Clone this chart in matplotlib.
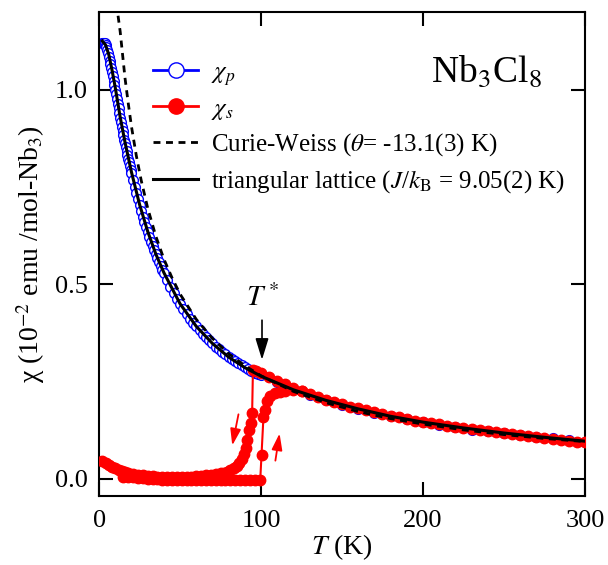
import matplotlib
matplotlib.use('Agg')
import matplotlib.pyplot as plt
from matplotlib.lines import Line2D

plt.rcParams['font.family'] = ['Liberation Serif', 'DejaVu Serif']
plt.rcParams['mathtext.fontset'] = 'stix'

# chi_p (blue open circles)
T_p = [2, 2.5, 3, 3.5, 4, 4.5, 5, 5.5, 6, 6.5, 7, 7.5, 8, 8.5, 9, 9.5, 10,
       10.5, 11, 11.5, 12, 12.5, 13, 13.5, 14, 14.5, 15, 15.5, 16, 16.5, 17,
       17.5, 18, 18.5, 19, 19.5, 20,
       21, 22, 23, 24, 25, 26, 27, 28, 29, 30, 31, 32, 33, 34, 35, 36, 37, 38, 39, 40,
       42, 44, 46, 48, 50, 52, 54, 56, 58, 60, 62, 64, 66, 68, 70, 72, 74, 76, 78, 80,
       82, 84, 86, 88, 90, 92, 94, 96, 98, 100,
       110, 120, 130, 140, 150, 160, 170, 180, 190, 200,
       210, 220, 230, 240, 250, 260, 270, 280, 290, 300]
chi_p = [1.120, 1.121, 1.121, 1.120, 1.116, 1.110, 1.103, 1.095, 1.085, 1.075,
         1.066, 1.056, 1.045, 1.034, 1.023, 1.012, 1.000,
         0.988, 0.976, 0.964, 0.952, 0.940, 0.928, 0.917, 0.905, 0.894, 0.883,
         0.872, 0.862, 0.852, 0.842, 0.832, 0.822, 0.813, 0.803, 0.794, 0.785,
         0.767, 0.750, 0.734, 0.718, 0.703, 0.688, 0.674, 0.660, 0.647, 0.634,
         0.622, 0.610, 0.599, 0.588, 0.577, 0.567, 0.557, 0.547, 0.537, 0.528,
         0.510, 0.494, 0.478, 0.463, 0.449, 0.436, 0.423, 0.411, 0.401, 0.392,
         0.382, 0.373, 0.364, 0.356, 0.348, 0.340, 0.333, 0.326, 0.320, 0.314,
         0.308, 0.302, 0.297, 0.292, 0.287, 0.282, 0.277, 0.273, 0.270, 0.266,
         0.248, 0.231, 0.216, 0.203, 0.191, 0.180, 0.170, 0.161, 0.153, 0.146,
         0.139, 0.133, 0.127, 0.122, 0.117, 0.113, 0.108, 0.104, 0.100, 0.096]

# chi_s cooling run (red), 300 K down to 2 K
T_s_cool = [300, 295, 290, 285, 280, 275, 270, 265, 260, 255, 250, 245, 240, 235, 230,
            225, 220, 215, 210, 205, 200, 195, 190, 185, 180, 175, 170, 165, 160, 155,
            150, 145, 140, 135, 130, 125, 120, 115, 110, 105, 100, 97, 95,
            94.5, 93.5, 92.5, 91.5, 90.5, 89.5, 88, 86.5, 85, 83, 81, 79, 77, 75,
            72, 69, 66, 63, 60, 57, 54, 51, 48, 45, 42, 39, 36, 33, 30, 27, 24, 21,
            18, 16, 14, 12, 10, 8, 6, 4, 2]
chi_s_cool = [0.094, 0.096, 0.098, 0.100, 0.103, 0.105, 0.107, 0.110, 0.112, 0.115,
              0.117, 0.120, 0.122, 0.125, 0.128, 0.131, 0.134, 0.137, 0.140, 0.143,
              0.147, 0.150, 0.154, 0.158, 0.162, 0.166, 0.171, 0.176, 0.181, 0.186,
              0.192, 0.198, 0.204, 0.211, 0.218, 0.226, 0.234, 0.243, 0.252, 0.262,
              0.271, 0.277, 0.280,
              0.170, 0.145, 0.125, 0.100, 0.080, 0.065, 0.050, 0.040, 0.033, 0.027,
              0.023, 0.019, 0.016, 0.014, 0.012, 0.010, 0.009, 0.008, 0.007, 0.006,
              0.006, 0.005, 0.005, 0.005, 0.005, 0.006, 0.006, 0.007, 0.008, 0.009,
              0.010, 0.012, 0.015, 0.017, 0.020, 0.023, 0.027, 0.031, 0.036, 0.040, 0.045]

# chi_s warming run (red)
T_s_warm = [15, 18, 21, 24, 27, 30, 33, 36, 39, 42, 45, 48, 51, 54, 57, 60, 63, 66, 69,
            72, 75, 78, 81, 84, 87, 90, 93, 96, 99.5,
            100.3, 101.5, 102.5, 103.7, 105.5, 108.5, 111.5, 115, 120, 125]
chi_s_warm = [0.006, 0.005, 0.004, 0.003, 0.002, 0.001, 0.000, -0.001, -0.002, -0.002,
              -0.003, -0.003, -0.003, -0.003, -0.003, -0.003, -0.003, -0.003, -0.003,
              -0.003, -0.003, -0.003, -0.003, -0.003, -0.003, -0.003, -0.003, -0.003, -0.003,
              0.062, 0.160, 0.178, 0.200, 0.212, 0.220, 0.224, 0.226, 0.229, 0.226]

# Curie-Weiss fit (dashed)
T_cw = [11.7, 13, 14, 16, 18, 20, 23, 26, 30, 35, 40, 45, 50, 60, 70, 80, 90, 100,
        120, 140, 160, 180, 200, 225, 250, 275, 300]
chi_cw = [1.19, 1.15, 1.11, 1.03, 0.965, 0.905, 0.83, 0.767, 0.696, 0.624, 0.565, 0.517,
          0.475, 0.41, 0.361, 0.322, 0.291, 0.265, 0.225, 0.196, 0.173, 0.155, 0.141,
          0.126, 0.114, 0.104, 0.096]

# triangular lattice fit (solid)
T_tri = [2, 4, 6, 8, 10, 13, 16, 20, 25, 30, 35, 40, 50, 60, 70, 80, 90, 100,
         120, 140, 160, 180, 200, 225, 250, 275, 300]
chi_tri = [1.125, 1.115, 1.09, 1.05, 1.005, 0.93, 0.865, 0.788, 0.705, 0.636, 0.578,
           0.530, 0.450, 0.392, 0.348, 0.313, 0.286, 0.264, 0.229, 0.202, 0.180, 0.161,
           0.146, 0.131, 0.118, 0.107, 0.097]

fig = plt.figure(figsize=(6.08, 5.65), dpi=100)
ax = fig.add_axes([0.163, 0.122, 0.799, 0.857])

ax.plot(T_p, chi_p, '-o', color='blue', mfc='white', mec='blue', ms=7, mew=1.0, lw=1.0, zorder=2)
ax.plot(T_s_cool, chi_s_cool, '-o', color='red', ms=7.5, lw=1.5, zorder=3)
ax.plot(T_s_warm, chi_s_warm, '-o', color='red', ms=7.5, lw=1.5, zorder=3)
ax.plot(T_cw, chi_cw, '--', color='black', lw=2.0, dashes=(2.5, 2), zorder=4)
ax.plot(T_tri, chi_tri, '-', color='black', lw=2.2, zorder=5)

# hysteresis arrows
ax.annotate('', xy=(81.9, 0.079), xytext=(86.4, 0.173),
            arrowprops=dict(arrowstyle='-|>,head_length=1.0,head_width=0.32', color='red', lw=1.3))
ax.annotate('', xy=(111.7, 0.124), xytext=(108.6, 0.040),
            arrowprops=dict(arrowstyle='-|>,head_length=1.0,head_width=0.32', color='red', lw=1.3))
ax.annotate('', xy=(100.6, 0.299), xytext=(100.6, 0.415),
            arrowprops=dict(arrowstyle='-|>,head_length=1.3,head_width=0.4', color='black', lw=1.2))
ax.text(100.6, 0.465, r'$T^*$', fontsize=21, ha='center', va='center')

ax.text(0.912, 0.855, r'Nb$_3$Cl$_8$', transform=ax.transAxes, fontsize=27, ha='right', va='baseline')

handles = [Line2D([], [], color='blue', marker='o', mfc='white', mec='blue', ms=11, lw=2.0),
           Line2D([], [], color='red', marker='o', ms=11, lw=2.0),
           Line2D([], [], color='black', ls='--', lw=2.0, dashes=(2.5, 2)),
           Line2D([], [], color='black', lw=2.2)]
labels = [r'$\chi_p$', r'$\chi_s$', r'Curie-Weiss ($\theta$= -13.1(3) K)',
          r'triangular lattice ($J$/$k_\mathrm{B}$ = 9.05(2) K)']
ax.legend(handles, labels, loc='upper left', bbox_to_anchor=(0.111, 0.898), frameon=False,
          fontsize=18, handlelength=1.8, handletextpad=0.5, labelspacing=0.38,
          borderpad=0, borderaxespad=0)

ax.set_xlim(0, 300)
ax.set_ylim(-0.044, 1.2)
ax.set_xticks([0, 100, 200, 300])
ax.set_yticks([0.0, 0.5, 1.0])
ax.set_yticklabels(['0.0', '0.5', '1.0'])
ax.tick_params(direction='in', length=10, width=1.5, top=True, right=True, labelsize=19, pad=8)
ax.tick_params(axis='x', pad=10)
for s in ax.spines.values():
    s.set_linewidth(1.5)

ax.set_xlabel(r'$T$ (K)', fontsize=20, labelpad=0)
ax.set_ylabel(r'χ (10$^{-2}$ emu /mol-Nb$_3$)', fontsize=20, labelpad=6)

fig.savefig('out.png', dpi=100)
